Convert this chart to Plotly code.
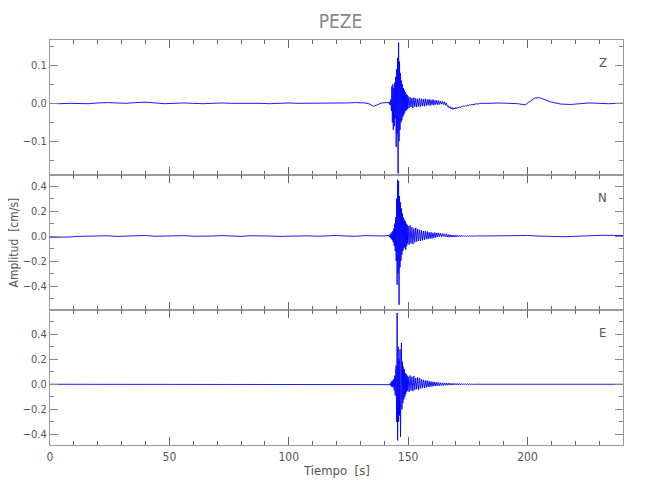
import plotly.graph_objects as go

# ---------------- data (cm/s) ----------------
TITLE = "PEZE"
CHANNELS = ["Z", "N", "E"]
X_TICKS = [0, 50, 100, 150, 200]

PRE_T = [0, 4, 8, 12, 16, 20, 24, 28, 32, 36, 40, 44, 48, 52, 56, 60, 64, 68,
         72, 76, 80, 84, 88, 92, 96, 100, 104, 108, 112, 116, 120, 124, 128,
         132, 136, 140]
BURST_T = [round(142.0 + 0.2 * i, 1) for i in range(41)]   # 142.0 .. 150.0
CODA_T = [round(150.4 + 0.4 * i, 1) for i in range(75)]    # 150.4 .. 180.0
POST_T = [184, 188, 192, 196, 200, 204, 208, 212, 216, 220, 224, 228, 232, 236, 240]

# Z component
Z_PRE_T = [0, 4, 8, 12, 16, 20, 24, 28, 32, 36, 40, 44, 48, 52, 56, 60, 64, 68,
           72, 76, 80, 84, 88, 92, 96, 100, 104, 108, 112, 116, 120, 124, 128,
           132, 134, 135.5, 137, 139, 141]
Z_PRE = [0.000, -0.001, 0.000, 0.000, -0.001, 0.001, 0.002, 0.001, 0.000, 0.002,
         0.003, 0.001, -0.001, 0.000, 0.001, 0.000, -0.001, 0.000, 0.001, 0.000,
         0.000, 0.001, 0.000, -0.001, 0.000, 0.001, 0.000, 0.000, 0.001, 0.000,
         0.000, 0.001, 0.002, 0.001, -0.002, -0.008, -0.004, 0.001, 0.002]
Z_BURST = [0.002, -0.003, 0.004, -0.004, 0.010, -0.020, 0.045, -0.050, 0.050, -0.070,
           0.040, -0.060, 0.055, -0.040, 0.070, -0.115, 0.090, -0.080, 0.120, -0.185,
           0.160, -0.100, 0.110, -0.070, 0.080, -0.050, 0.060, -0.045, 0.050, -0.035,
           0.040, -0.030, 0.035, -0.025, 0.030, -0.020, 0.025, -0.018, 0.022, -0.015,
           0.018]
Z_CODA = [-0.012, 0.016, -0.010, 0.014, -0.012, 0.015, -0.009, 0.013, -0.010, 0.012,
          -0.008, 0.013, -0.009, 0.012, -0.007, 0.011, -0.008, 0.012, -0.006, 0.010,
          -0.005, 0.011, -0.006, 0.009, -0.004, 0.010, -0.005, 0.008, -0.003, 0.008,
          -0.004, 0.007, -0.003, 0.006, -0.002, 0.005, -0.003, 0.004, -0.005, 0.001,
          -0.008, -0.006, -0.012, -0.009, -0.015, -0.011, -0.016, -0.012, -0.015, -0.011,
          -0.014, -0.010, -0.012, -0.009, -0.011, -0.008, -0.009, -0.007, -0.008, -0.006,
          -0.007, -0.005, -0.006, -0.004, -0.005, -0.003, -0.004, -0.003, -0.003, -0.002,
          -0.002, -0.001, -0.002, -0.001, 0.000]
Z_POST_T = [184, 188, 192, 196, 199, 201, 203, 205, 207, 210, 214, 218, 222, 226,
            230, 234, 238, 240]
Z_POST = [0.000, 0.001, 0.000, -0.001, -0.004, 0.006, 0.014, 0.015, 0.010, 0.003,
          -0.002, -0.003, -0.001, 0.001, 0.000, -0.001, 0.000, 0.000]

# N component
N_PRE = [-0.010, -0.012, -0.008, -0.003, 0.000, 0.005, 0.002, -0.003, 0.000, 0.006,
         0.004, -0.002, 0.000, 0.004, 0.003, -0.002, -0.004, 0.000, 0.003, 0.000,
         -0.003, 0.002, 0.004, 0.000, -0.003, 0.000, 0.003, 0.001, -0.002, 0.002,
         0.004, 0.000, -0.002, 0.003, 0.001, 0.000]
N_BURST = [0.005, -0.008, 0.012, -0.015, 0.020, -0.025, 0.030, -0.035, 0.040, -0.050,
           0.060, -0.080, 0.100, -0.120, 0.150, -0.200, 0.300, -0.390, 0.450, -0.300,
           0.440, -0.550, 0.320, -0.250, 0.270, -0.200, 0.220, -0.150, 0.180, -0.120,
           0.150, -0.100, 0.130, -0.090, 0.120, -0.110, 0.100, -0.080, 0.090, -0.060,
           0.080]
N_CODA = [-0.070, 0.085, -0.060, 0.070, -0.065, 0.060, -0.050, 0.065, -0.045, 0.055,
          -0.040, 0.050, -0.040, 0.045, -0.035, 0.040, -0.030, 0.040, -0.025, 0.035,
          -0.025, 0.030, -0.020, 0.030, -0.020, 0.025, -0.015, 0.028, -0.012, 0.025,
          -0.008, 0.025, -0.005, 0.022, -0.006, 0.020, -0.004, 0.018, -0.006, 0.015,
          -0.008, 0.012, -0.010, 0.010, -0.008, 0.008, -0.009, 0.007, -0.008, 0.006,
          -0.007, 0.005, -0.006, 0.004, -0.006, 0.004, -0.005, 0.003, -0.005, 0.003,
          -0.004, 0.003, -0.004, 0.002, -0.003, 0.002, -0.003, 0.002, -0.002, 0.002,
          -0.002, 0.002, -0.001, 0.001, 0.000]
N_POST = [0.002, 0.004, 0.005, 0.006, 0.004, 0.000, -0.004, -0.007, -0.006, -0.002,
          0.002, 0.004, 0.006, 0.005, 0.004]

# E component
E_PRE = [0.000, 0.000, 0.001, 0.000, -0.001, 0.000, 0.000, 0.001, 0.000, 0.000,
         -0.001, 0.000, 0.000, 0.001, 0.000, 0.000, 0.000, -0.001, 0.000, 0.000,
         0.001, 0.000, 0.000, 0.000, -0.001, 0.000, 0.000, 0.001, 0.000, 0.000,
         0.000, -0.001, 0.000, 0.000, 0.001, 0.000]
E_BURST = [0.002, -0.003, 0.005, -0.008, 0.012, -0.018, 0.025, -0.020, 0.030, -0.025,
           0.040, -0.050, 0.070, -0.090, 0.120, 0.150, -0.300, 0.570, -0.450, 0.300,
           -0.300, 0.200, -0.250, 0.280, -0.420, -0.200, 0.330, -0.200, 0.180, -0.150,
           0.140, -0.120, 0.120, -0.100, 0.090, -0.080, 0.080, -0.060, 0.070, -0.050,
           0.060]
E_CODA = [-0.060, 0.070, -0.050, 0.060, -0.055, 0.065, -0.045, 0.050, -0.040, 0.055,
          -0.045, 0.050, -0.035, 0.040, -0.030, 0.035, -0.030, 0.030, -0.025, 0.030,
          -0.022, 0.025, -0.020, 0.022, -0.018, 0.020, -0.015, 0.018, -0.014, 0.016,
          -0.012, 0.014, -0.012, 0.012, -0.010, 0.012, -0.010, 0.010, -0.008, 0.010,
          -0.008, 0.009, -0.007, 0.008, -0.007, 0.007, -0.006, 0.007, -0.005, 0.006,
          -0.005, 0.006, -0.005, 0.005, -0.004, 0.005, -0.004, 0.004, -0.003, 0.004,
          -0.003, 0.003, -0.003, 0.003, -0.002, 0.002, -0.002, 0.002, -0.002, 0.002,
          -0.001, 0.001, -0.001, 0.001, 0.000]
E_POST = [0.000, 0.000, 0.001, 0.000, 0.000, -0.001, 0.000, 0.000, 0.001, 0.000,
          0.000, 0.000, -0.001, 0.000, 0.000]

Y_RANGES = [[-0.189, 0.167], [-0.592, 0.488], [-0.486, 0.594]]
Y_DTICK = [0.1, 0.2, 0.2]
Y_MINOR = [0.05, 0.1, 0.1]


def join(parts):
    ts, vs = [], []
    for t, v in parts:
        n = min(len(t), len(v))
        ts += list(t[:n])
        vs += list(v[:n])
    return ts, vs


series = [
    join([(Z_PRE_T, Z_PRE), (BURST_T, Z_BURST), (CODA_T, Z_CODA), (Z_POST_T, Z_POST)]),
    join([(PRE_T, N_PRE), (BURST_T, N_BURST), (CODA_T, N_CODA), (POST_T, N_POST)]),
    join([(PRE_T, E_PRE), (BURST_T, E_BURST), (CODA_T, E_CODA), (POST_T, E_POST)]),
]

# ---------------- figure ----------------
FONT = "Liberation Sans Narrow, DejaVu Sans Condensed, Arial Narrow, sans-serif"
AXC = "#9a9a9a"
TXC = "#555555"

fig = go.Figure()
domains = [[2 / 3, 1.0], [1 / 3, 2 / 3], [0.0, 1 / 3]]

for i, (t, v) in enumerate(series):
    k = "" if i == 0 else str(i + 1)
    fig.add_trace(go.Scatter(x=t, y=v, mode="lines",
                             line=dict(color="#0000ff", width=0.9),
                             xaxis="x" + k, yaxis="y" + k, showlegend=False,
                             hoverinfo="skip"))
    fig.layout["xaxis" + k] = dict(
        domain=[0, 1], anchor="y" + k, range=[0, 240],
        tickvals=X_TICKS, ticktext=[str(x) for x in X_TICKS],
        showticklabels=(i == 2), ticks="inside", ticklen=8, tickwidth=1,
        tickcolor="#666666", mirror="allticks", showline=True,
        linecolor=AXC, linewidth=1.2, showgrid=False, zeroline=False,
        minor=dict(dtick=10, tick0=0, ticks="inside", ticklen=4,
                   tickcolor="#666666", showgrid=False),
        tickfont=dict(family=FONT, size=12, color=TXC),
    )
    fig.layout["yaxis" + k] = dict(
        domain=domains[i], anchor="x" + k, range=Y_RANGES[i],
        dtick=Y_DTICK[i], tick0=0, tickformat=".1f",
        ticks="inside", ticklen=8, tickwidth=1, tickcolor="#888888",
        mirror="allticks", showline=True, linecolor=AXC, linewidth=1.2,
        showgrid=False, zeroline=False,
        minor=dict(dtick=Y_MINOR[i], tick0=0, ticks="inside", ticklen=4,
                   tickcolor="#888888", showgrid=False),
        tickfont=dict(family=FONT, size=11, color=TXC),
    )

label_y = [0.945, 0.61, 0.277]
for name, yy in zip(CHANNELS, label_y):
    fig.add_annotation(text=name, xref="paper", yref="paper", x=0.965, y=yy,
                       showarrow=False, xanchor="center", yanchor="middle",
                       font=dict(family=FONT, size=13, color=TXC))

fig.add_annotation(text="Amplitud  [cm/s]", xref="paper", yref="paper",
                   x=-0.063, y=0.5, textangle=-90, showarrow=False,
                   xanchor="center", yanchor="middle",
                   font=dict(family=FONT, size=12, color=TXC))
fig.add_annotation(text="Tiempo  [s]", xref="paper", yref="paper",
                   x=0.5, y=-0.062, showarrow=False,
                   xanchor="center", yanchor="middle",
                   font=dict(family=FONT, size=13, color=TXC))

# page body adds an 8px offset; figure sized so plot area lands where the reference has it
fig.update_layout(
    width=642, height=492,
    margin=dict(l=41.5, r=26.5, t=32, b=55),
    paper_bgcolor="white", plot_bgcolor="white",
    title=dict(text=TITLE, x=0.518, xanchor="center", y=0.972, yanchor="middle",
               font=dict(family=FONT, size=19, color="#888888")),
)

fig.write_html("out.html")
